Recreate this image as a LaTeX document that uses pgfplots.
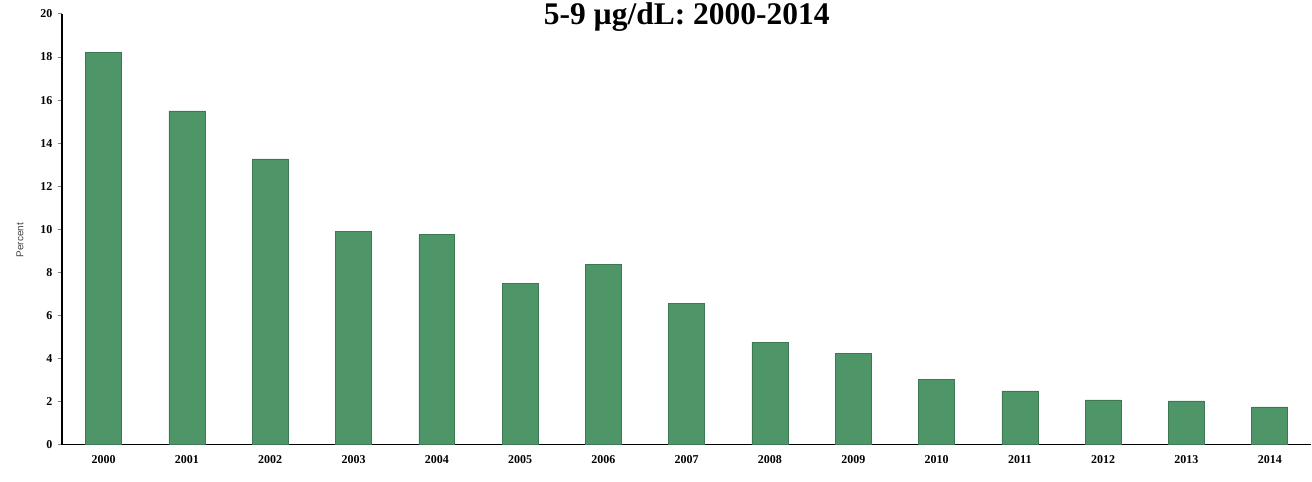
\documentclass[border=0pt]{standalone}
\usepackage{fontspec}
\setmainfont{Liberation Serif}
\newfontfamily\labelfont{Liberation Sans}
\usepackage{pgfplots}
\pgfplotsset{compat=1.18}
\definecolor{bargreen}{RGB}{78,149,104}
\definecolor{baredge}{RGB}{60,120,82}

\begin{document}
\begin{tikzpicture}
\begin{axis}[
  scale only axis,
  width=1250pt, height=431pt,
  ymin=0, ymax=20,
  ytick={0,2,...,20},
  xmin=-0.5, xmax=14.5,
  xtick={0,...,14},
  xticklabels={2000,2001,2002,2003,2004,2005,2006,2007,2008,2009,2010,2011,2012,2013,2014},
  axis x line=bottom, axis y line=left,
  axis line style={-, line width=1.2pt},
  tick align=outside,
  major tick length=4pt,
  xtick style={draw=none},
  ytick style={line width=1pt},
  ticklabel style={font=\bfseries\fontsize{12}{14}\selectfont},
  yticklabel style={xshift=-2pt},
  xticklabel style={yshift=-3pt},
  /pgf/number format/assume math mode=true,
  ybar, bar width=36pt,
  title={5-9 µg/dL: 2000-2014},
  title style={at={(0.5,1)}, anchor=base, yshift=-17pt, inner sep=0pt,
    font=\bfseries\fontsize{31.5}{33}\selectfont},
  ylabel={Percent},
  ylabel style={at={(axis description cs:-0.0336,0.475)}, anchor=center,
    font=\labelfont\fontsize{10}{12}\selectfont, text=darkgray},
]
\addplot[fill=bargreen, draw=baredge, line width=0.6pt] coordinates {
  (0,18.2) (1,15.5) (2,13.27) (3,9.89) (4,9.75) (5,7.49) (6,8.37) (7,6.56)
  (8,4.76) (9,4.25) (10,3.05) (11,2.5) (12,2.08) (13,2.04) (14,1.76)
};
\end{axis}
\path (current axis.south west) ++(-62pt,-37pt);
\path (current axis.north east) ++(0pt,14pt);
\end{tikzpicture}
\end{document}
